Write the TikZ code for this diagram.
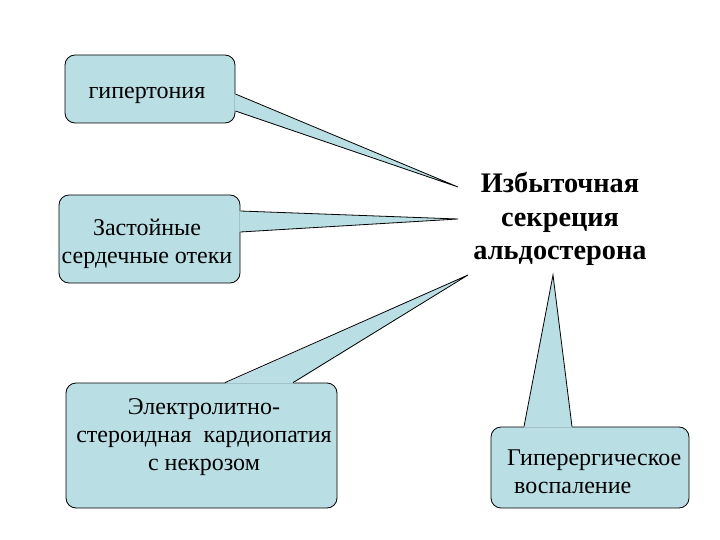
\documentclass[tikz,border=0pt]{standalone}
\usepackage{fontspec}
\setmainfont{Liberation Serif}
\usetikzlibrary{calc}
\definecolor{bubble}{RGB}{185,222,228}

\begin{document}
\begin{tikzpicture}[
    x=1pt, y=-1pt,
    box/.style={draw, fill=bubble, rounded corners=10pt, line width=0.8pt, inner sep=0pt},
    txt/.style={align=center, inner sep=0pt, font=\fontsize{24}{28}\selectfont},
    tailfill/.style={fill=bubble},
    tailline/.style={draw, line width=0.8pt},
  ]
  \useasboundingbox (0,0) rectangle (720,540);

  % Centre text
  \node[align=center, inner sep=0pt, font=\bfseries\fontsize{28.3}{33.5}\selectfont] (title) at (560,219) {Избыточная\\секреция\\альдостерона};

  % Tips of the callouts
  \coordinate (tipA) at (458,187);
  \coordinate (tipB) at (458,219);
  \coordinate (tipC) at (468,275);
  \coordinate (tipD) at (553,275);

  % Boxes
  \node[box, minimum width=170pt, minimum height=68pt] (hyp) at (150,89) {};
  \node[box, minimum width=181pt, minimum height=88pt] (zast) at (149.5,239) {};
  \node[box, minimum width=271pt, minimum height=125pt] (elec) at (201.5,445.5) {};
  \node[box, minimum width=198pt, minimum height=81pt] (hyperg) at (590,467.5) {};

  % Callout tails
  \fill[tailfill] ($(hyp.east)+(-1,5)$) -- (tipA) -- ($(hyp.east)+(-1,22)$) -- cycle;
  \draw[tailline] ($(hyp.east)+(0,5)$) -- (tipA) -- ($(hyp.east)+(0,22)$);

  \fill[tailfill] ($(zast.east)+(-1,-28)$) -- (tipB) -- ($(zast.east)+(-1,-7)$) -- cycle;
  \draw[tailline] ($(zast.east)+(0,-28)$) -- (tipB) -- ($(zast.east)+(0,-7)$);

  \fill[tailfill] ($(elec.north)+(23.5,1)$) -- (tipC) -- ($(elec.north)+(91.5,1)$) -- cycle;
  \draw[tailline] ($(elec.north)+(23.5,0)$) -- (tipC) -- ($(elec.north)+(91.5,0)$);

  \fill[tailfill] ($(hyperg.north)+(-66,1)$) -- (tipD) -- ($(hyperg.north)+(-18,1)$) -- cycle;
  \draw[tailline] ($(hyperg.north)+(-66,0)$) -- (tipD) -- ($(hyperg.north)+(-18,0)$);

  % Box texts
  \node[txt] (hyptext) at (147,95) {гипертония};
  \node[txt] (zasttext) at (147,244) {Застойные\\сердечные отеки};
  \node[txt] (electext) at (204,437) {Электролитно-\\стероидная\enspace кардиопатия\\с некрозом};
  \node[txt, align=left, anchor=west] (hypergtext) at (507,471.4) {Гиперергическое\\\hspace*{7pt}воспаление};
\end{tikzpicture}
\end{document}
